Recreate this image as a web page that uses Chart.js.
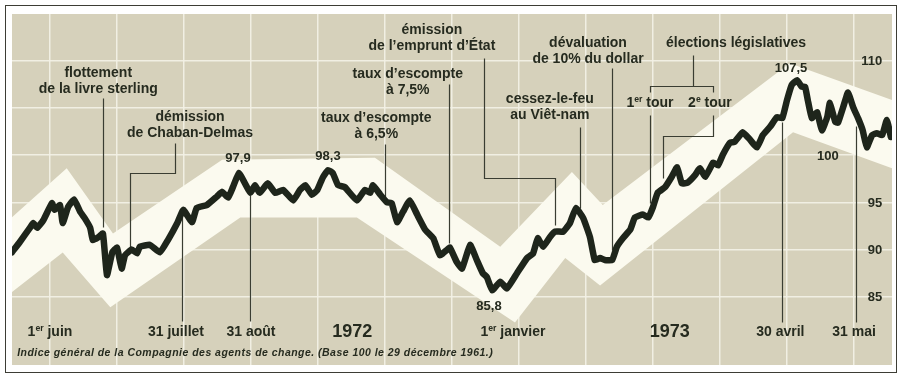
<!DOCTYPE html>
<html lang="fr">
<head>
    <meta charset="UTF-8">
    <title>Indice général de la Compagnie des agents de change 1972-1973</title>
    <script src="https://cdn.jsdelivr.net/npm/chart.js"></script>
    <style>
        html, body {
            margin: 0;
            padding: 0;
            background: #ffffff;
        }
        .chart-container {
            position: relative;
            width: 902px;
            height: 378px;
        }
    </style>
</head>
<body>
    <div class="chart-container">
        <canvas id="indiceChart"></canvas>
    </div>

    <script>
        // Abscisse en mois : 0 = 1er juin 1972, 7 = 1er janvier 1973, 12 = 31 mai 1973
        const positions = [
            -0.57, -0.45, -0.30, -0.25, -0.19, -0.10, 0.03, 0.07, 0.15, 0.19,
            0.27, 0.36, 0.45, 0.52, 0.60, 0.64, 0.72, 0.79, 0.85, 0.93,
            1.00, 1.07, 1.12, 1.22, 1.30, 1.34, 1.49, 1.64, 1.76, 1.90,
            1.99, 2.12, 2.19, 2.34, 2.49, 2.57, 2.66, 2.73, 2.82, 2.91,
            2.99, 3.06, 3.13, 3.25, 3.36, 3.48, 3.63, 3.73, 3.81, 3.91,
            3.99, 4.07, 4.15, 4.22, 4.30, 4.40, 4.58, 4.70, 4.78, 4.82,
            4.93, 5.03, 5.10, 5.18, 5.27, 5.37, 5.48, 5.60, 5.72, 5.82,
            5.93, 5.97, 6.07, 6.15, 6.27, 6.37, 6.46, 6.52, 6.60, 6.72,
            6.82, 6.97, 7.12, 7.21, 7.28, 7.36, 7.46, 7.54, 7.66, 7.76,
            7.85, 7.96, 8.06, 8.13, 8.21, 8.28, 8.39, 8.46, 8.55, 8.66,
            8.73, 8.85, 8.93, 9.00, 9.07, 9.18, 9.28, 9.36, 9.43, 9.52,
            9.63, 9.70, 9.78, 9.90, 9.97, 10.04, 10.15, 10.22, 10.34, 10.45,
            10.55, 10.64, 10.75, 10.85, 10.93, 11.00, 11.07, 11.15, 11.22, 11.27,
            11.31, 11.37, 11.45, 11.52, 11.60, 11.64, 11.72, 11.76, 11.84, 11.91,
            11.99, 12.06, 12.13, 12.19, 12.27, 12.34, 12.42, 12.49, 12.55
        ];
        // Indice général (base 100 le 29 décembre 1961)
        const indice = [
            89.7, 90.8, 92.3, 92.8, 92.3, 93.1, 94.9, 94.2, 94.7, 92.8,
            94.5, 95.3, 94.0, 93.3, 92.3, 91.0, 91.3, 91.7, 87.3, 89.7,
            90.2, 88.0, 89.4, 90.0, 89.6, 90.3, 90.5, 89.7, 91.0, 92.8,
            94.2, 92.9, 94.4, 94.7, 95.6, 96.1, 95.5, 96.6, 98.1, 97.0,
            96.0, 96.8, 96.0, 97.0, 96.0, 96.3, 95.2, 96.3, 96.8, 95.8,
            96.3, 97.6, 98.4, 98.1, 96.8, 96.6, 95.2, 96.3, 96.0, 96.8,
            95.8, 95.0, 94.9, 92.9, 94.0, 95.2, 93.7, 92.1, 91.2, 89.4,
            90.0, 90.2, 88.7, 88.0, 90.5, 88.9, 87.5, 87.1, 85.7, 86.6,
            85.9, 87.5, 89.1, 89.6, 91.2, 90.3, 91.3, 91.9, 91.9, 92.8,
            94.4, 93.3, 91.3, 88.9, 89.1, 88.9, 88.9, 90.3, 91.2, 92.1,
            93.4, 93.7, 93.4, 94.5, 96.0, 96.6, 97.7, 98.7, 97.0, 97.1,
            97.9, 98.6, 97.7, 99.2, 98.9, 100.0, 101.3, 101.4, 102.4, 101.6,
            100.8, 102.1, 103.0, 104.0, 103.9, 105.8, 107.4, 107.9, 107.2, 107.2,
            105.8, 103.9, 104.5, 102.6, 104.0, 105.5, 103.5, 103.4, 105.1, 106.6,
            105.0, 103.9, 102.6, 100.8, 102.1, 102.3, 102.1, 103.7, 101.9
        ];

        // Bande blanche de tendance (bord haut et bord bas)
        const bandeHautX = [-0.57, 0.25, 0.94, 2.57, 4.85, 6.72, 7.79, 8.25, 11.04, 12.57];
        const bandeHaut = [93.4, 98.6, 91.7, 99.5, 99.7, 90.3, 98.2, 94.7, 109.7, 105.8];
        const bandeBasX = [-0.57, 0.19, 0.90, 2.84, 4.58, 6.94, 7.69, 8.21, 11.09, 12.57];
        const bandeBas = [85.5, 89.7, 83.9, 93.4, 93.4, 82.3, 89.1, 86.2, 102.4, 98.6];

        // Grille : un trait par mois, un trait tous les 5 points
        const moisGrille = [0, 1, 2, 3, 4, 5, 6, 7, 8, 9, 10, 11, 12];
        const niveauxGrille = [85, 90, 95, 100, 105, 110];
        const graduations = ['110', '95', '90', '85'];

        // Événements (lignes de texte centrées sur x, y de chaque ligne)
        const evenements = [
            { lignes: ['flottement', 'de la livre sterling'], x: 0.72, y: [108.7, 107.0] },
            { lignes: ['démission', 'de Chaban-Delmas'], x: 2.09, y: [104.0, 102.3] },
            { lignes: ['taux d’escompte', 'à 6,5%'], x: 4.87, y: [103.9, 102.2] },
            { lignes: ['taux d’escompte', 'à 7,5%'], x: 5.34, y: [108.5, 106.8] },
            { lignes: ['émission', 'de l’emprunt d’État'], x: 5.70, y: [113.2, 111.5] },
            { lignes: ['cessez-le-feu', 'au Viêt-nam'], x: 7.46, y: [105.9, 104.2] },
            { lignes: ['dévaluation', 'de 10% du dollar'], x: 8.03, y: [111.85, 110.15] },
            { lignes: ['élections législatives'], x: 10.24, y: [111.85] },
            { lignes: ['1{er} tour'], x: 8.955, y: [105.5] },
            { lignes: ['2{e} tour'], x: 9.85, y: [105.5] }
        ];

        // Traits de renvoi [mois, indice]
        const renvois = [
            [[0.79, 106.0], [0.79, 92.4]],
            [[1.87, 101.3], [1.87, 98.1], [1.19, 98.1], [1.19, 90.3]],
            [[5.0, 101.2], [5.0, 95.6]],
            [[5.955, 107.5], [5.955, 90.7]],
            [[6.48, 110.3], [6.48, 97.6], [7.54, 97.6], [7.54, 92.6]],
            [[7.91, 103.0], [7.91, 94.4]],
            [[8.39, 109.2], [8.39, 90.0]],
            [[9.6, 110.6], [9.6, 107.3]],
            [[8.955, 106.7], [8.955, 107.3], [9.896, 107.3], [9.896, 106.7]],
            [[8.955, 104.2], [8.955, 94.9]],
            [[9.896, 104.2], [9.896, 102.0], [9.15, 102.0], [9.15, 97.6]],
            [[1.97, 93.6], [1.97, 82.5]],
            [[2.985, 95.8], [2.985, 82.5]],
            [[10.925, 103.5], [10.925, 82.3]],
            [[12.03, 103.1], [12.03, 82.3]]
        ];

        // Valeurs remarquables
        const extremes = [
            { t: '97,9', x: 2.806, y: 99.6 },
            { t: '98,3', x: 4.149, y: 99.8 },
            { t: '85,8', x: 6.552, y: 84.0 },
            { t: '107,5', x: 11.06, y: 109.2 }
        ];

        // Repères de dates en bas
        const dates = [
            { t: '1{er} juin', x: 0 },
            { t: '31 juillet', x: 1.88 },
            { t: '31 août', x: 3.0 },
            { t: '1{er} janvier', x: 6.91 },
            { t: '30 avril', x: 10.9 },
            { t: '31 mai', x: 12.0 }
        ];
        const annees = [{ t: '1972', x: 4.51 }, { t: '1973', x: 9.25 }];

        const note = 'Indice général de la Compagnie des agents de change. (Base 100 le 29 décembre 1961.)';

        const BEIGE = '#d6d1bb';
        const BLANC = '#fbfaef';
        const ENCRE = '#262b1f';
        const POLICE = '"Liberation Sans", Arial, sans-serif';

        function police(taille, style) {
            return (style || 'bold') + ' ' + taille + 'px ' + POLICE;
        }

        // Écrit un texte avec exposants notés {er}
        function ecrire(ctx, texte, px, py, taille, align) {
            const parties = texte.split(/(\{[^}]*\})/).filter(p => p.length);
            const morceaux = parties.map(p => {
                const sup = p.charAt(0) === '{';
                const t = sup ? p.slice(1, -1) : p;
                ctx.font = police(sup ? taille * 0.62 : taille);
                return { t, sup, w: ctx.measureText(t).width };
            });
            const total = morceaux.reduce((s, m) => s + m.w, 0);
            let cx = px;
            if (align === 'center') cx = px - total / 2;
            if (align === 'right') cx = px - total;
            ctx.textAlign = 'left';
            ctx.textBaseline = 'middle';
            morceaux.forEach(m => {
                ctx.font = police(m.sup ? taille * 0.62 : taille);
                ctx.fillText(m.t, cx, m.sup ? py - taille * 0.25 : py);
                cx += m.w;
            });
        }

        const fond = {
            id: 'fond',
            beforeDraw(chart) {
                const { ctx, chartArea: a, width, height } = chart;
                ctx.save();
                ctx.fillStyle = '#ffffff';
                ctx.fillRect(0, 0, width, height);
                ctx.strokeStyle = '#3d3d35';
                ctx.lineWidth = 1;
                ctx.strokeRect(5.5, 5.5, width - 11, height - 11);
                ctx.fillStyle = BEIGE;
                ctx.fillRect(a.left, a.top, a.right - a.left, a.bottom - a.top);
                ctx.restore();
            }
        };

        const annotations = {
            id: 'annotations',
            // les renvois passent sur la bande mais sous la courbe
            beforeDatasetDraw(chart, args) {
                if (args.index !== 0) return;
                const { ctx, scales: { x, y } } = chart;
                ctx.save();
                ctx.strokeStyle = '#3a3d32';
                ctx.lineWidth = 1.2;
                renvois.forEach(chemin => {
                    ctx.beginPath();
                    chemin.forEach(([m, v], i) => {
                        const px = Math.round(x.getPixelForValue(m)) + 0.5;
                        const py = Math.round(y.getPixelForValue(v)) + 0.5;
                        if (i === 0) ctx.moveTo(px, py); else ctx.lineTo(px, py);
                    });
                    ctx.stroke();
                });
                ctx.restore();
            },
            afterDatasetsDraw(chart) {
                const { ctx, scales: { x, y } } = chart;
                ctx.save();
                ctx.fillStyle = ENCRE;
                evenements.forEach(e => {
                    e.lignes.forEach((l, i) => {
                        ecrire(ctx, l, x.getPixelForValue(e.x), y.getPixelForValue(e.y[i]), 14, 'center');
                    });
                });
                extremes.forEach(e => {
                    ecrire(ctx, e.t, x.getPixelForValue(e.x), y.getPixelForValue(e.y), 13, 'center');
                });
                dates.forEach(d => {
                    ecrire(ctx, d.t, x.getPixelForValue(d.x), y.getPixelForValue(81.3), 14, 'center');
                });
                annees.forEach(d => {
                    ecrire(ctx, d.t, x.getPixelForValue(d.x), y.getPixelForValue(81.3), 18, 'center');
                });
                // graduations à droite, dans le cadre
                graduations.forEach(g => {
                    ecrire(ctx, g, x.getPixelForValue(12.42), y.getPixelForValue(Number(g)) + 1, 13, 'right');
                });
                ecrire(ctx, '100', x.getPixelForValue(11.61), y.getPixelForValue(99.8), 13, 'center');
                ctx.font = police(10.5, 'italic bold');
                ctx.letterSpacing = '0.47px';
                ctx.textAlign = 'left';
                ctx.textBaseline = 'middle';
                ctx.fillText(note, x.getPixelForValue(-0.49), y.getPixelForValue(79.05));
                ctx.restore();
            }
        };

        const ctx = document.getElementById('indiceChart').getContext('2d');
        const indiceChart = new Chart(ctx, {
            type: 'line',
            data: {
                datasets: [
                    {
                        label: 'Indice général',
                        data: positions.map((m, i) => ({ x: m, y: indice[i] })),
                        borderColor: '#1e251b',
                        borderWidth: 6.5,
                        borderJoinStyle: 'round',
                        borderCapStyle: 'round',
                        pointRadius: 0,
                        tension: 0.12,
                        fill: false
                    },
                    {
                        label: 'bande haut',
                        data: bandeHautX.map((m, i) => ({ x: m, y: bandeHaut[i] })),
                        borderWidth: 0,
                        pointRadius: 0,
                        tension: 0,
                        backgroundColor: BLANC,
                        fill: '+1'
                    },
                    {
                        label: 'bande bas',
                        data: bandeBasX.map((m, i) => ({ x: m, y: bandeBas[i] })),
                        borderWidth: 0,
                        pointRadius: 0,
                        tension: 0,
                        fill: false
                    }
                ]
            },
            options: {
                responsive: true,
                maintainAspectRatio: false,
                animation: false,
                events: [],
                layout: {
                    padding: { left: 12, right: 10, top: 14, bottom: 13 }
                },
                scales: {
                    x: {
                        type: 'linear',
                        min: -0.567,
                        max: 12.567,
                        afterBuildTicks: axis => { axis.ticks = moisGrille.map(v => ({ value: v })); },
                        ticks: { display: false },
                        border: { display: false },
                        grid: { color: 'rgba(242, 240, 229, 0.95)', lineWidth: 1.5, drawTicks: false }
                    },
                    y: {
                        min: 77.8,
                        max: 114.9,
                        afterBuildTicks: axis => { axis.ticks = niveauxGrille.map(v => ({ value: v })); },
                        ticks: { display: false },
                        border: { display: false },
                        grid: { color: 'rgba(242, 240, 229, 0.95)', lineWidth: 1.5, drawTicks: false }
                    }
                },
                plugins: {
                    legend: { display: false },
                    tooltip: { enabled: false }
                }
            },
            plugins: [fond, annotations]
        });
    </script>
</body>
</html>
